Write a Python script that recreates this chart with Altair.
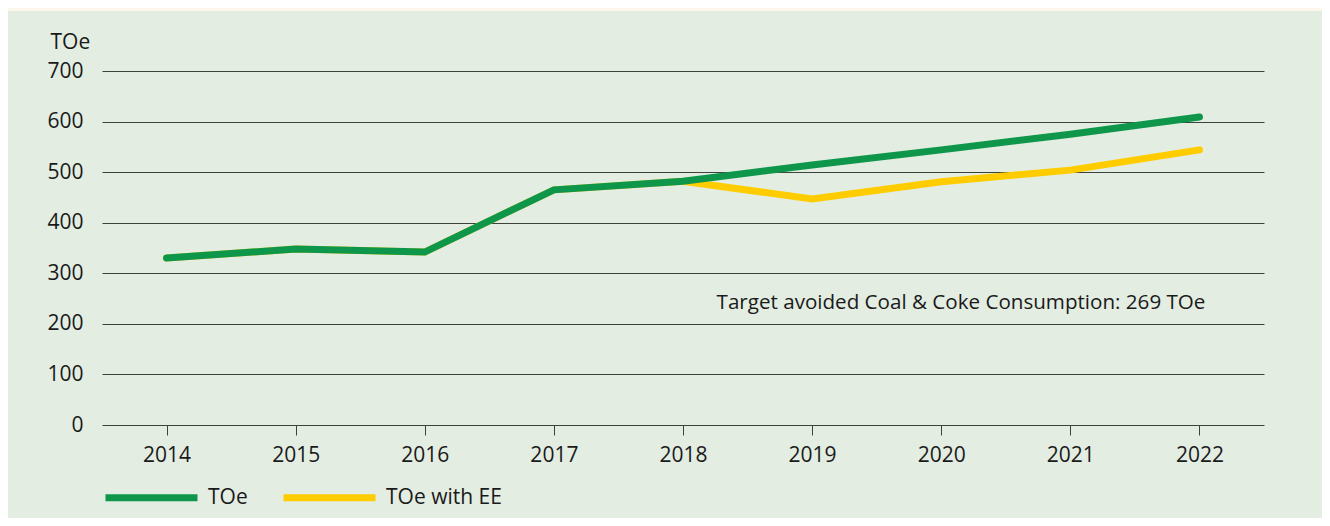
import altair as alt
import pandas as pd

years = ["2014", "2015", "2016", "2017", "2018", "2019", "2020", "2021", "2022"]
toe = [330, 348, 342, 465, 482, 514, 544, 575, 609]
toe_ee = [330, 348, 342, 465, 482, 447, 481, 504, 544]
series_names = ["TOe", "TOe with EE"]
series_colors = ["#0e964b", "#ffcc00"]
y_ticks = [0, 100, 200, 300, 400, 500, 600, 700]
note_text = ["Target avoided Coal & Coke Consumption: 269 TOe"]
note_year = ["2022"]
note_value = [241]

rows = []
for y, a, b in zip(years, toe, toe_ee):
    rows.append({"year": y, "value": a, "series": series_names[0]})
    rows.append({"year": y, "value": b, "series": series_names[1]})
df = pd.DataFrame(rows)
note_df = pd.DataFrame({"year": note_year, "value": note_value, "text": note_text})

FONT = "Open Sans"
FS = 21
BG = "#e3ede2"
CREAM = "#fdf6ea"
TXT = "#1a1a1a"
W, H = 1162, 354

x_enc = alt.X("year:O", sort=years,
              scale=alt.Scale(type="point", padding=0.5),
              axis=alt.Axis(title=None, domain=False, ticks=True, tickSize=10,
                            tickColor="#3d423d", tickWidth=1, labelAngle=0,
                            labelPadding=9, grid=False))
y_enc = alt.Y("value:Q", scale=alt.Scale(domain=[0, 700], nice=False),
              axis=alt.Axis(values=y_ticks, title="TOe", titleAngle=0,
                            titleX=-52, titleY=-29, titleAlign="left",
                            titleBaseline="middle", titleFontWeight="normal",
                            domain=False, ticks=False, labelPadding=19,
                            grid=True, gridColor="#3d423d", gridWidth=1))
color_enc = alt.Color("series:N",
                      scale=alt.Scale(domain=series_names, range=series_colors),
                      legend=alt.Legend(title=None, orient="none", direction="horizontal",
                                        legendX=0, legendY=377, padding=0,
                                        symbolType="stroke", symbolSize=8464,
                                        symbolStrokeWidth=7, labelOffset=7,
                                        columnPadding=21))

base = alt.Chart(df).encode(x=x_enc, y=y_enc, color=color_enc)

line_ee = base.transform_filter(alt.datum.series == series_names[1]).mark_line(
    strokeWidth=7, strokeCap="round")
line_toe = base.transform_filter(alt.datum.series == series_names[0]).mark_line(
    strokeWidth=7, strokeCap="round")

strip = alt.Chart(pd.DataFrame({"k": [0]})).mark_rect(color=CREAM).encode(
    x=alt.value(-100), x2=alt.value(W + 60), y=alt.value(-66), y2=alt.value(-60))

note = alt.Chart(note_df).mark_text(align="right", baseline="middle", dx=6,
                                    fontSize=20.6, font=FONT, color=TXT).encode(
    x=alt.X("year:O", sort=years), y=alt.Y("value:Q"), text="text:N")

chart = alt.layer(strip, line_ee, line_toe, note).properties(
    width=W, height=H,
    autosize=alt.AutoSizeParams(type="none"),
    padding={"left": 94, "top": 63, "right": 58, "bottom": 93},
    background=BG,
).configure_view(stroke=None).configure_axis(
    labelFont=FONT, titleFont=FONT, labelFontSize=FS, titleFontSize=FS,
    labelColor=TXT, titleColor=TXT,
).configure_legend(labelFont=FONT, labelFontSize=FS, labelColor=TXT)

chart.save("out.html", embed_options={"renderer": "svg", "actions": False})
